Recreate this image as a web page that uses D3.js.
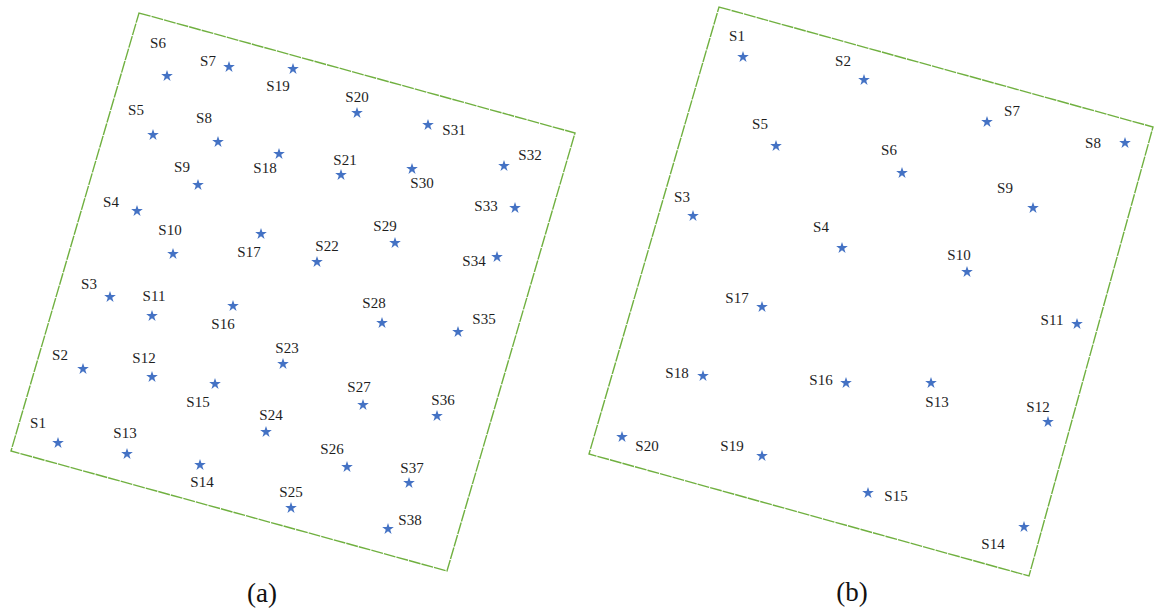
<!DOCTYPE html>
<html>
<head>
<meta charset="utf-8">
<script src="https://cdn.jsdelivr.net/npm/d3@7"></script>
<style>
  html, body { margin: 0; padding: 0; background: #fff; }
  svg { display: block; }
  .lbl { font-family: "Liberation Serif", "Times New Roman", serif; font-size: 15px; fill: #1e1e1e; }
  .cap { font-family: "Liberation Serif", "Times New Roman", serif; font-size: 27px; fill: #111; }
</style>
</head>
<body>
<svg id="chart" width="1155" height="610"></svg>
<script>
// ---- Layout (a): 38 monitoring stations, site coordinates ----
const aNames  = ["S1","S2","S3","S4","S5","S6","S7","S8","S9","S10","S11","S12","S13","S14","S15","S16","S17","S18","S19",
                 "S20","S21","S22","S23","S24","S25","S26","S27","S28","S29","S30","S31","S32","S33","S34","S35","S36","S37","S38"];
const aX      = [58, 83, 110, 137, 153, 167, 229, 218, 198, 173, 152, 152, 127, 200, 215, 233, 261, 279, 293,
                 357, 341, 317, 283, 266, 291, 347, 363, 382, 395, 412, 428, 504, 515, 497, 458, 437, 409, 388];
const aY      = [443, 369, 297, 211, 135, 76, 67, 142, 185, 254, 316, 377, 454, 465, 384, 306, 234, 154, 69,
                 113, 175, 262, 364, 432, 508, 467, 405, 323, 243, 169, 125, 166, 208, 257, 332, 416, 483, 529];
const aLabelX = [38, 60, 89, 111, 136, 158, 208, 204, 182, 170, 154, 144, 125, 202, 198, 223, 249, 265, 278,
                 357, 345, 327, 287, 271, 291, 332, 359, 374, 385, 422, 454, 530, 486, 474, 484, 443, 412, 410];
const aLabelY = [423, 355, 284, 202, 110, 43, 61, 118, 167, 230, 296, 358, 433, 482, 402, 324, 252, 168, 86,
                 97, 160, 246, 348, 415, 492, 449, 387, 303, 226, 183, 130, 155, 206, 261, 319, 400, 468, 520];
const aBoundaryX = [139, 575, 447, 11];
const aBoundaryY = [13, 133, 571, 451];

// ---- Layout (b): 20 monitoring stations, site coordinates ----
const bNames  = ["S1","S2","S3","S4","S5","S6","S7","S8","S9","S10","S11","S12","S13","S14","S15","S16","S17","S18","S19","S20"];
const bX      = [163, 284, 113, 262, 196, 322, 407, 545, 453, 387, 497, 468, 351, 444, 288, 266, 182, 123, 182, 42];
const bY      = [57, 80, 216, 248, 146, 173, 122, 143, 208, 272, 324, 422, 383, 527, 493, 383, 307, 376, 456, 437];
const bLabelX = [157, 263, 102, 241, 180, 309, 432, 513, 425, 379, 472, 458, 357, 413, 316, 241, 157, 97, 152, 67];
const bLabelY = [36, 61, 197, 227, 124, 150, 111, 143, 188, 255, 320, 407, 402, 544, 496, 380, 298, 373, 446, 446];
const bBoundaryX = [139, 573, 449, 9];
const bBoundaryY = [7, 127, 576, 454];

const panelCaptions = ["(a)", "(b)"];
const captionX = [262, 272];
const captionY = [593, 592];

const svg = d3.select("#chart");

const panels = [
  { names: aNames, x: aX, y: aY, lx: aLabelX, ly: aLabelY, bx: aBoundaryX, by: aBoundaryY, offset: 0 },
  { names: bNames, x: bX, y: bY, lx: bLabelX, ly: bLabelY, bx: bBoundaryX, by: bBoundaryY, offset: 580 }
];

const star = d3.symbol().type(d3.symbolStar).size(42);

panels.forEach((p, i) => {
  const xs = d3.scaleLinear().domain([0, 575]).range([p.offset, p.offset + 575]);
  const ys = d3.scaleLinear().domain([0, 610]).range([0, 610]);
  const g = svg.append("g");

  // site boundary
  const corners = p.bx.map((v, k) => [xs(v), ys(p.by[k])]);
  g.append("path")
    .attr("d", d3.line()(corners) + "Z")
    .attr("fill", "none")
    .attr("stroke", "#70b040")
    .attr("stroke-width", 1.4)
    .attr("stroke-dasharray", "12,1");

  // stations
  const rows = p.names.map((n, k) => ({ n, x: p.x[k], y: p.y[k], lx: p.lx[k], ly: p.ly[k] }));
  g.selectAll("path.st").data(rows).join("path")
    .attr("class", "st")
    .attr("d", star)
    .attr("transform", d => `translate(${xs(d.x)},${ys(d.y)})`)
    .attr("fill", "#4472c4");

  g.selectAll("text.lbl").data(rows).join("text")
    .attr("class", "lbl")
    .attr("x", d => xs(d.lx))
    .attr("y", d => ys(d.ly))
    .attr("text-anchor", "middle")
    .attr("dominant-baseline", "central")
    .text(d => d.n);

  g.append("text")
    .attr("class", "cap")
    .attr("x", xs(captionX[i]))
    .attr("y", ys(captionY[i]))
    .attr("text-anchor", "middle")
    .attr("dominant-baseline", "central")
    .text(panelCaptions[i]);
});
</script>
</body>
</html>
